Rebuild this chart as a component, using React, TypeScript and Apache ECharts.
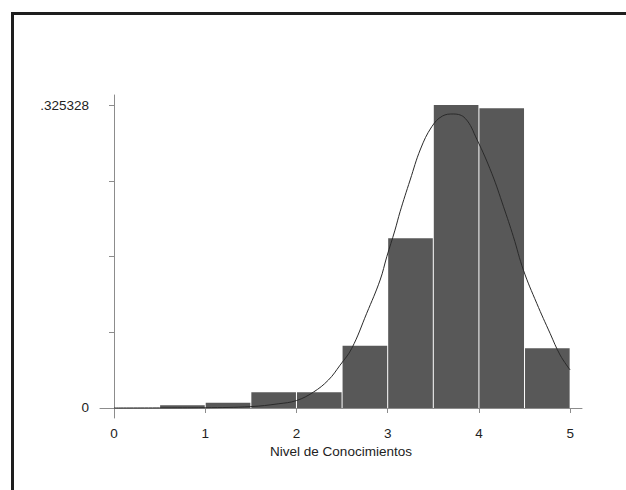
import React, { useEffect, useRef } from "react";
import * as echarts from "echarts";

// Histogram bins (Nivel de Conocimientos), fraction per bin
const binStarts = [0.5, 1.0, 1.5, 2.0, 2.5, 3.0, 3.5, 4.0, 4.5];
const binEnds = [1.0, 1.5, 2.0, 2.5, 3.0, 3.5, 4.0, 4.5, 5.0];
const binHeights = [0.003, 0.0057, 0.0169, 0.0169, 0.0669, 0.1822, 0.325328, 0.3218, 0.0641];

// Overlay curve, points
const curveX = [0, 0.5, 1.0, 1.5, 1.8, 2.0, 2.185, 2.35, 2.478, 2.606, 2.77, 2.917, 2.99, 3.08, 3.136, 3.246, 3.36, 3.483, 3.6, 3.72, 3.85, 3.977, 4.141, 4.27, 4.378, 4.488, 4.634, 4.78, 4.89, 5.0];
const curveY = [0, 0.0001, 0.0003, 0.0015, 0.0045, 0.008, 0.017, 0.03, 0.046, 0.064, 0.1017, 0.1374, 0.1624, 0.191, 0.2108, 0.2448, 0.2781, 0.302, 0.3135, 0.3157, 0.311, 0.2886, 0.252, 0.2161, 0.1839, 0.148, 0.1124, 0.0802, 0.0569, 0.0408];

// Axis ticks and labels
const xTicks = [0, 1, 2, 3, 4, 5];
const yTicks = [0, 0.081332, 0.162664, 0.243996, 0.325328];
const yLabelValues = [0, 0.325328];
const yLabelTexts = ["0", ".325328"];
const xAxisTitle = "Nivel de Conocimientos";

export default function App() {
  const ref = useRef<HTMLDivElement>(null);
  useEffect(() => {
    if (!ref.current) return;
    const chart = echarts.init(ref.current, null, { renderer: "svg" });
    const barData = binStarts.map((s, i) => [s, binEnds[i], binHeights[i]]);
    const lineData = curveX.map((x, i) => [x, curveY[i]]);
    const font = "'Liberation Sans', Arial, sans-serif";
    const axisColor = "#8c8c8c";
    const textColor = "#222";
    chart.setOption({
      animation: false,
      backgroundColor: "#ffffff",
      grid: { left: 100, top: 95, width: 482, height: 323, containLabel: false },
      xAxis: {
        type: "value",
        min: -0.1535,
        max: 5.13,
        axisLine: { show: true, lineStyle: { color: axisColor, width: 1 } },
        axisTick: { show: true, length: 5, customValues: xTicks, lineStyle: { color: axisColor } },
        axisLabel: {
          customValues: xTicks,
          color: textColor,
          fontFamily: font,
          fontSize: 13.5,
          margin: 8,
          formatter: (v: number) => String(v),
        },
        splitLine: { show: false },
        name: xAxisTitle,
        nameLocation: "middle",
        nameGap: 19,
        nameTextStyle: { color: textColor, fontFamily: font, fontSize: 13.5 },
      },
      yAxis: {
        type: "value",
        min: -0.01074,
        max: 0.3361,
        axisLine: { show: true, lineStyle: { color: axisColor, width: 1 } },
        axisTick: { show: true, length: 5, customValues: yTicks, lineStyle: { color: axisColor } },
        axisLabel: {
          customValues: yLabelValues,
          color: textColor,
          fontFamily: font,
          fontSize: 13.5,
          margin: 11,
          formatter: (v: number) => {
            const i = yLabelValues.findIndex((t) => Math.abs(t - v) < 1e-6);
            return i >= 0 ? yLabelTexts[i] : "";
          },
        },
        splitLine: { show: false },
      },
      graphic: [
        { type: "rect", shape: { x: 11, y: 12, width: 615, height: 3 }, style: { fill: "#1e1e1e" }, silent: true },
        { type: "rect", shape: { x: 11, y: 12, width: 3, height: 478 }, style: { fill: "#1e1e1e" }, silent: true },
      ],
      series: [
        {
          type: "custom",
          data: barData,
          encode: { x: [0, 1], y: 2 },
          renderItem: (params: any, api: any) => {
            const p0 = api.coord([api.value(0), api.value(2)]);
            const p1 = api.coord([api.value(1), 0]);
            return {
              type: "rect",
              shape: { x: p0[0] + 0.5, y: p0[1], width: p1[0] - p0[0] - 1, height: p1[1] - p0[1] },
              style: { fill: "#585858", stroke: null },
            };
          },
          z: 2,
        },
        {
          type: "line",
          data: lineData,
          smooth: 0.4,
          showSymbol: false,
          lineStyle: { color: "#2a2a2a", width: 1 },
          z: 3,
        },
      ],
    });
    return () => chart.dispose();
  }, []);
  return (
    <div
      ref={ref}
      style={{ position: "fixed", left: 0, top: 0, width: 626, height: 490, background: "#fff" }}
    />
  );
}
